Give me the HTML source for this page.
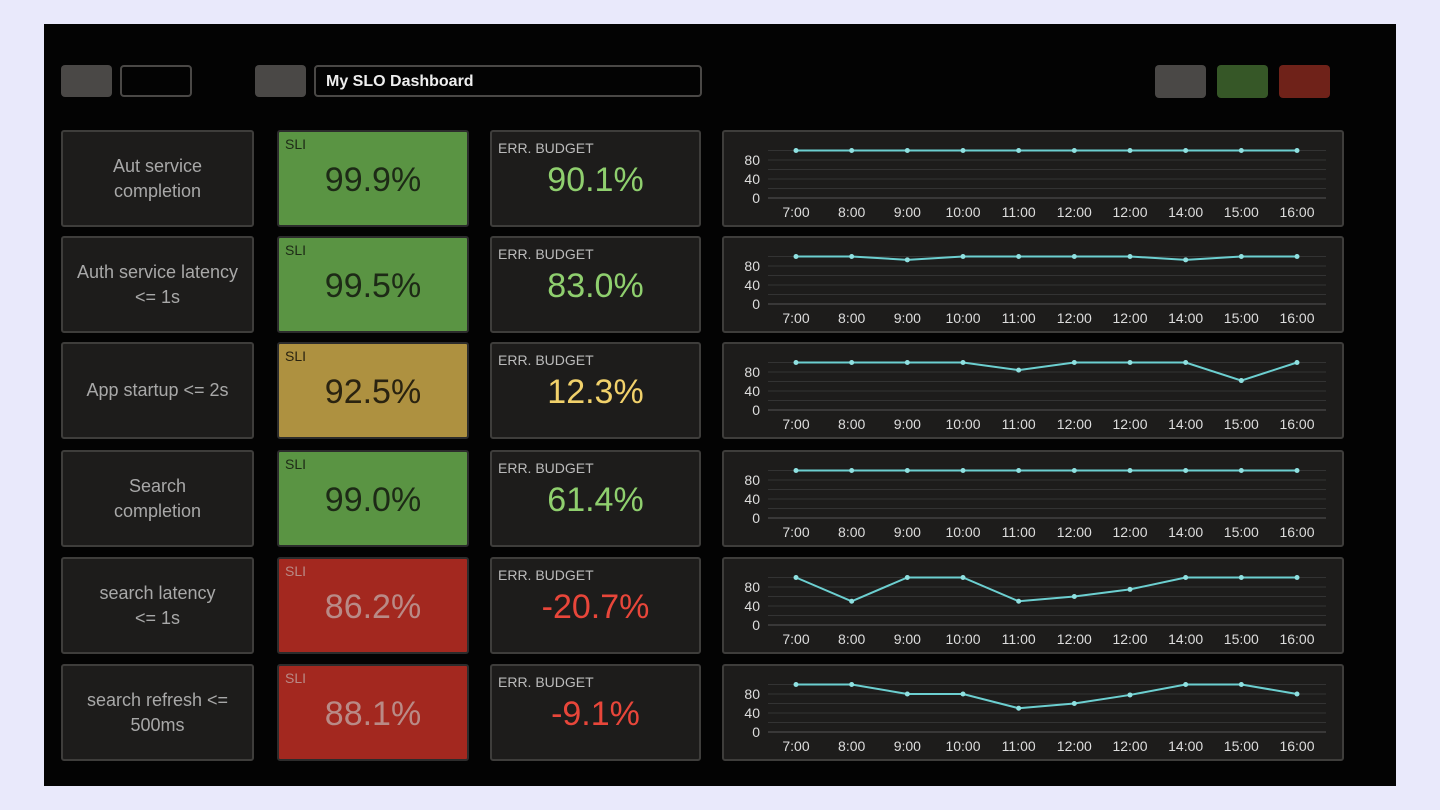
<!DOCTYPE html>
<html><head><meta charset="utf-8">
<style>
body{margin:0;width:1440px;height:810px;background:#e9e9fb;font-family:"Liberation Sans",sans-serif;position:relative;overflow:hidden}
#panel{position:absolute;left:44px;top:24px;width:1352px;height:762px;background:#030303}
.b{position:absolute;box-sizing:border-box;border-radius:4px}
.card{position:absolute;box-sizing:border-box;border:2px solid #3e3d3b;background:#1d1c1b;border-radius:3px}
.lbl{display:flex;align-items:center;justify-content:center;text-align:center;color:#a8a8a8;font-size:18px;line-height:25px}
.small{position:absolute;left:6px;top:6px;font-size:14px}
.big{position:absolute;left:0;right:0;top:28px;text-align:center;font-size:34px}
</style></head><body>
<div id="panel"></div>
<div class="b" style="left:61px;top:65px;width:51px;height:32px;background:#4a4846"></div>
<div class="b" style="left:120px;top:65px;width:72px;height:32px;border:2px solid #4a4846"></div>
<div class="b" style="left:255px;top:65px;width:51px;height:32px;background:#4a4846"></div>
<div class="b" style="left:314px;top:65px;width:388px;height:32px;border:2px solid #4a4846;color:#eee;font-weight:bold;font-size:16px;padding:6px 10px">My SLO Dashboard</div>
<div class="b" style="left:1155px;top:65px;width:51px;height:33px;background:#4a4846"></div>
<div class="b" style="left:1217px;top:65px;width:51px;height:33px;background:#365727"></div>
<div class="b" style="left:1279px;top:65px;width:51px;height:33px;background:#6f2219"></div>
<div id="rows"></div>
<script>
const names=["Aut service<br>completion","Auth service latency<br>&lt;= 1s","App startup &lt;= 2s","Search<br>completion","search latency<br>&lt;= 1s","search refresh &lt;=<br>500ms"];
const sli=["99.9%","99.5%","92.5%","99.0%","86.2%","88.1%"];
const status=["good","good","warn","good","bad","bad"];
const budget=["90.1%","83.0%","12.3%","61.4%","-20.7%","-9.1%"];
const hours=["7:00","8:00","9:00","10:00","11:00","12:00","12:00","14:00","15:00","16:00"];
const yTicks=[0,40,80];
const s1=[100,100,100,100,100,100,100,100,100,100];
const s2=[100,100,93,100,100,100,100,93,100,100];
const s3=[100,100,100,100,84,100,100,100,62,100];
const s4=[100,100,100,100,100,100,100,100,100,100];
const s5=[100,50,100,100,50,60,75,100,100,100];
const s6=[100,100,80,80,50,60,78,100,100,80];
const series=[s1,s2,s3,s4,s5,s6];
const tops=[130,236,342,450,557,664];
const colors={good:["#5a9443","#1d2a16","#8fcf6e"],warn:["#ae9140","#2a2310","#f1d16b"],bad:["#a3281f","#b98a86","#e8463a"]};
const root=document.getElementById('rows');
const NS="http://www.w3.org/2000/svg";
tops.forEach((t,i)=>{
  const c=colors[status[i]];
  const a=document.createElement('div');a.className='card lbl';
  
  
  a.style.cssText=`left:61px;top:${t}px;width:193px;height:97px`;a.innerHTML=names[i];root.appendChild(a);
  const s=document.createElement('div');s.className='card';
  
  
  s.style.cssText=`left:277px;top:${t}px;width:192px;height:97px;background:${c[0]};border-color:#2c2c2c;color:${c[1]}`;
  s.innerHTML=`<div class="small" style="top:4px">SLI</div><div class="big" style="top:29px">${sli[i]}</div>`;root.appendChild(s);
  const e=document.createElement('div');e.className='card';
  
  
  e.style.cssText=`left:490px;top:${t}px;width:211px;height:97px`;
  e.innerHTML=`<div class="small" style="color:#bbb;top:8px">ERR. BUDGET</div><div class="big" style="color:${c[2]};top:29px">${budget[i]}</div>`;root.appendChild(e);
  const ch=document.createElement('div');ch.className='card';
  
  
  ch.style.cssText=`left:722px;top:${t}px;width:622px;height:97px`;root.appendChild(ch);
  const svg=document.createElementNS(NS,'svg');svg.setAttribute('width',618);svg.setAttribute('height',93);
  svg.style.position='absolute';svg.style.left='0';svg.style.top='0';ch.appendChild(svg);
  const x0=796-724,step=(1297-796)/(hours.length-1),y0=66,ys=0.475;
  const X=k=>x0+k*step, Y=v=>y0-v*ys;
  for(let v=0;v<=100;v+=20){const l=document.createElementNS(NS,'line');
    l.setAttribute('x1',44);l.setAttribute('x2',602);l.setAttribute('y1',Y(v));l.setAttribute('y2',Y(v));
    l.setAttribute('stroke',v==0?'#555':'#333');l.setAttribute('stroke-width',1);
    
    svg.appendChild(l);}
  yTicks.forEach(v=>{const tx=document.createElementNS(NS,'text');tx.setAttribute('x',36);tx.setAttribute('y',Y(v)+5);
    tx.setAttribute('text-anchor','end');tx.setAttribute('fill','#ddd');tx.setAttribute('font-size',14);tx.textContent=v;
    
    svg.appendChild(tx);});
  hours.forEach((h,k)=>{const tx=document.createElementNS(NS,'text');tx.setAttribute('x',X(k));tx.setAttribute('y',85);
    tx.setAttribute('text-anchor','middle');tx.setAttribute('fill','#ddd');tx.setAttribute('font-size',14);tx.textContent=h;
    
    svg.appendChild(tx);});
  const d=series[i];
  const p=document.createElementNS(NS,'polyline');
  p.setAttribute('points',d.map((v,k)=>X(k)+','+Y(v)).join(' '));
  p.setAttribute('fill','none');p.setAttribute('stroke','#6ccfd0');p.setAttribute('stroke-width',2);
  
  svg.appendChild(p);
  d.forEach((v,k)=>{const cc=document.createElementNS(NS,'circle');cc.setAttribute('cx',X(k));cc.setAttribute('cy',Y(v));cc.setAttribute('r',2.5);cc.setAttribute('fill','#8fe0e0');
    
    svg.appendChild(cc);});
});
</script>
</body></html>
